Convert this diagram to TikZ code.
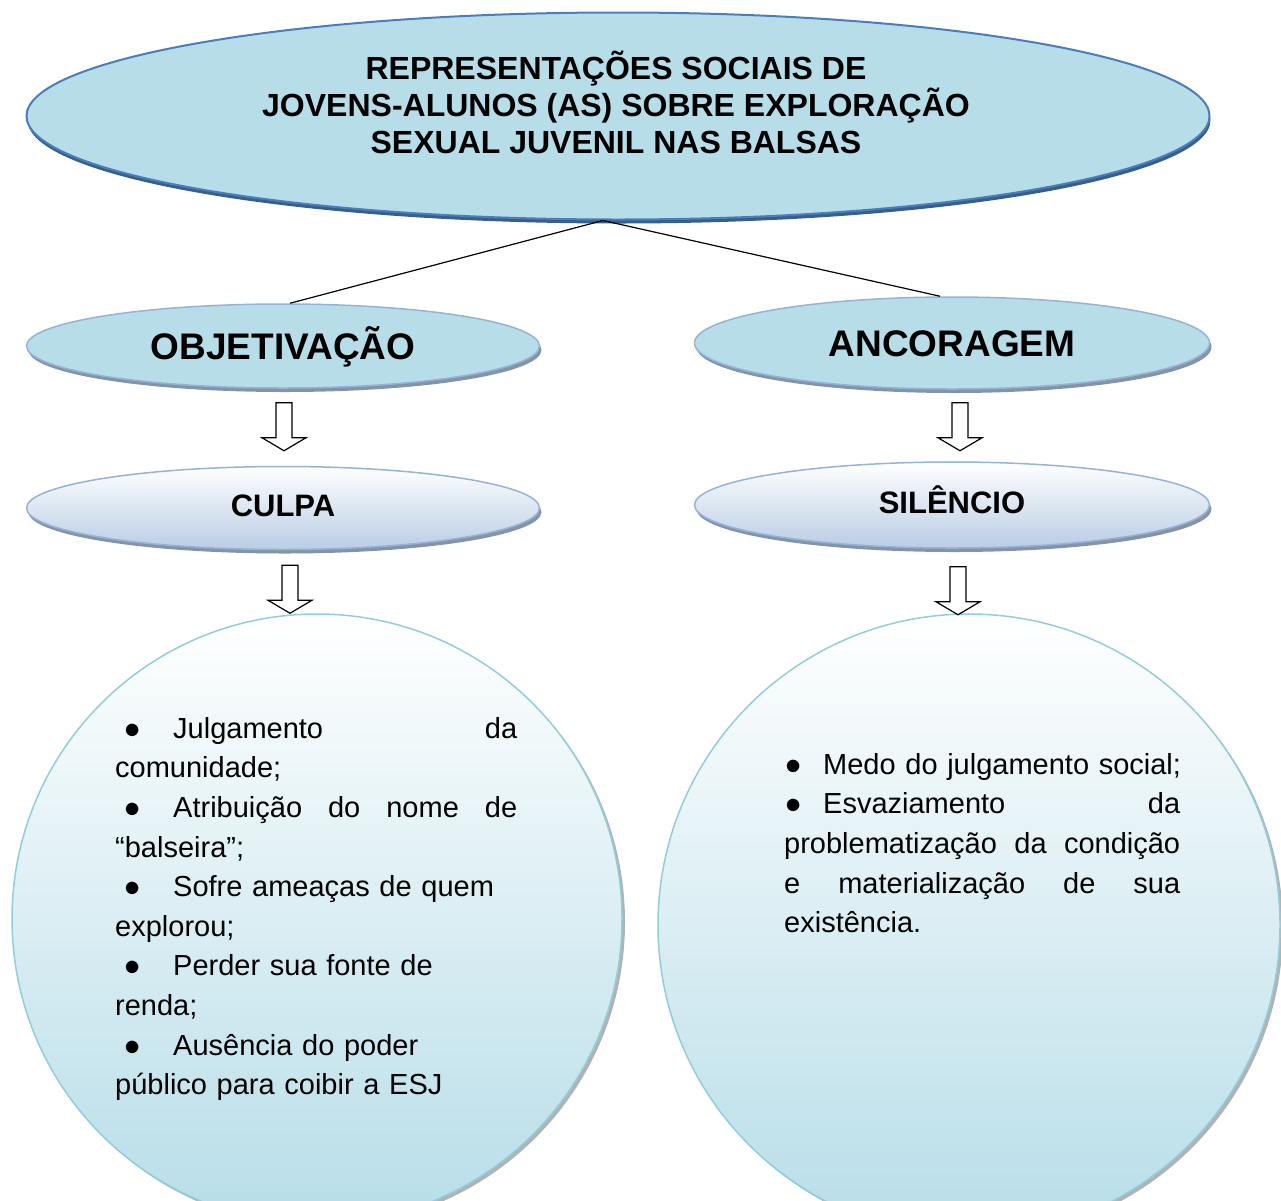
\documentclass[tikz,border=0pt]{standalone}
\usepackage{fontspec}
\setmainfont{Liberation Sans}
\usetikzlibrary{positioning,shadows,shapes.geometric}

\definecolor{capa}{HTML}{B7DDE8}
\definecolor{bordatopo}{HTML}{4A7EBB}
\definecolor{bordaelip}{HTML}{95B3D7}
\definecolor{sombra}{HTML}{8593A8}
\definecolor{lilas}{HTML}{B9CDE5}
\definecolor{bordacirc}{HTML}{92CDDC}

\newcommand{\corpo}{\fontsize{29}{39.6}\selectfont}
\newcommand{\marca}[2]{\makebox[#2][l]{\hspace*{#1}\scalebox{1.3}{$\bullet$}}}

\tikzset{
  seta/.pic={\draw[fill=white,line width=1.2pt,line join=miter]
    (-8,0) -- (8,0) -- (8,35) -- (22,35) -- (0,48) -- (-22,35) -- (-8,35) -- cycle;}
}

\begin{document}
\begin{tikzpicture}[x=1pt,y=-1pt,
  every node/.style={inner sep=0pt},
  topo/.style={ellipse,draw=bordatopo,line width=2pt,fill=capa,
    drop shadow={shadow xshift=1pt,shadow yshift=-4pt,fill=bordatopo!75!black,opacity=1}},
  nivel/.style={ellipse,draw=bordaelip,line width=1.5pt,fill=capa,
    font=\fontsize{37}{40}\bfseries,text height=26.5pt,text depth=0pt,
    drop shadow={shadow xshift=2pt,shadow yshift=-4pt,fill=sombra,opacity=1}},
  tema/.style={ellipse,draw=bordaelip,line width=1.5pt,top color=white,bottom color=lilas,
    font=\fontsize{31}{34}\bfseries,text height=22.2pt,text depth=6pt,
    drop shadow={shadow xshift=2pt,shadow yshift=-4pt,fill=sombra,opacity=1}},
  bola/.style={circle,draw=bordacirc,line width=1.5pt,top color=white,bottom color=capa,
    drop shadow={shadow xshift=3pt,shadow yshift=-3pt,fill=gray!60,opacity=1}},
  lista/.style={anchor=north west,align=left,font=\corpo}]

\useasboundingbox (0,0) rectangle (1281,1200);
\clip (0,0) rectangle (1281,1200);

% ellipses
\node[topo,minimum width=1183pt,minimum height=207pt] (topo) at (618,116) {};
\node[font=\fontsize{32}{37}\bfseries,align=center] (titulo) at (616,102)
  {REPRESENTAÇÕES SOCIAIS DE\\JOVENS-ALUNOS (AS) SOBRE EXPLORAÇÃO\\SEXUAL JUVENIL NAS BALSAS};

\node[nivel,minimum width=513pt,minimum height=84pt] (obj) at (283,346) {OBJETIVAÇÃO};
\node[nivel,minimum width=515pt,minimum height=92pt] (anc) at (952,343) {ANCORAGEM};

\node[tema,minimum width=513pt,minimum height=83pt] (culpa) at (283,508) {CULPA};
\node[tema,minimum width=515pt,minimum height=86pt] (silencio) at (952,505) {SILÊNCIO};

% circles
\node[bola,minimum size=610pt] (esq) at (317,919) {};
\node[bola,minimum size=622pt] (dir) at (969,925) {};

% lines and block arrows
\draw[line width=1.2pt] ([xshift=-15pt]topo.south) -- ([xshift=7pt]obj.north);
\draw[line width=1.2pt] ([xshift=-15pt]topo.south) -- ([xshift=-12pt]anc.north);

\pic at ([xshift=1pt,yshift=-14pt]obj.south) {seta};
\pic at ([xshift=8pt,yshift=-13pt]anc.south) {seta};
\pic at ([xshift=7pt,yshift=-15pt]culpa.south) {seta};
\pic at ([xshift=6pt,yshift=-18pt]silencio.south) {seta};

% texts
\node[lista,text width=402pt] (txtesq) at (115,717) {%
\marca{9pt}{58pt}Julgamento\hfill da\\
comunidade;\\
\marca{9pt}{58pt}Atribuição\hfill do\hfill nome\hfill de\\
“balseira”;\\
\marca{9pt}{58pt}Sofre ameaças de quem\\
explorou;\\
\marca{9pt}{58pt}Perder sua fonte de\\
renda;\\
\marca{9pt}{58pt}Ausência do poder\\
público para coibir a ESJ};

\node[lista,text width=396pt] (txtdir) at (784,753) {%
\marca{1pt}{39pt}\mbox{Medo do julgamento social;}\\
\marca{1pt}{39pt}Esvaziamento\hfill da\\
problematização\hfill da\hfill condição\\
e\hfill materialização\hfill de\hfill sua\\
existência.};

\end{tikzpicture}
\end{document}
